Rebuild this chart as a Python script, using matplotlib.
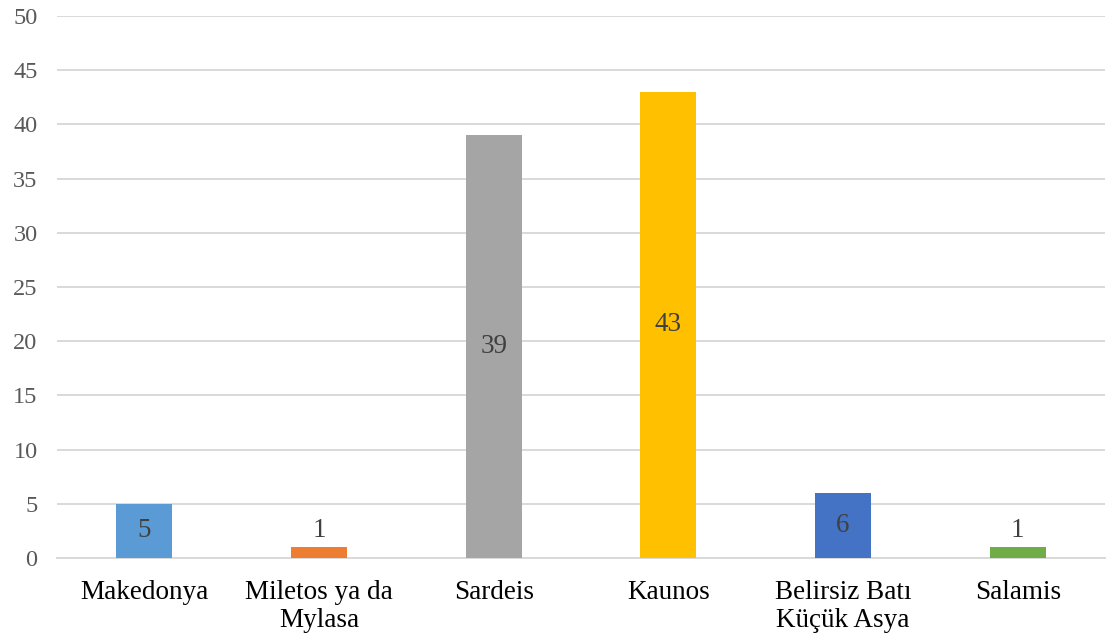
import matplotlib
matplotlib.use("Agg")
import matplotlib.pyplot as plt

categories = ["Makedonya", "Miletos ya da\nMylasa", "Sardeis", "Kaunos",
              "Belirsiz Batı\nKüçük Asya", "Salamis"]
counts = [5, 1, 39, 43, 6, 1]
bar_colors = ["#5B9BD5", "#ED7D31", "#A5A5A5", "#FFC000", "#4472C4", "#70AD47"]
y_ticks = list(range(0, 51, 5))

plt.rcParams["font.family"] = ["Liberation Serif", "DejaVu Serif"]

fig = plt.figure(figsize=(11.14, 6.39), dpi=100)
ax = fig.add_axes([0.0512, 0.1268, 0.9408, 0.8482])

x = list(range(len(categories)))
ax.bar(x, counts, width=0.32, color=bar_colors, zorder=3)

# value labels centred in the bar, lifted for very short bars
for xi, v in zip(x, counts):
    ax.text(xi, max(v / 2, 2.5), str(v), ha="center", va="center",
            fontsize=19.5, color="#404040", zorder=4)

ax.set_xlim(-0.5, len(categories) - 0.5)
ax.set_ylim(0, 50)
ax.set_yticks(y_ticks)
ax.set_yticklabels([str(t) for t in y_ticks], fontsize=17.5, color="#595959")
ax.set_xticks(x)
ax.set_xticklabels(categories, fontsize=19.5, color="#000000", linespacing=1.15)
ax.tick_params(axis="both", length=0)
ax.tick_params(axis="x", pad=16)
ax.tick_params(axis="y", pad=14)

ax.grid(axis="y", color="#D9D9D9", linewidth=1.4, zorder=0)
for side in ["top", "right", "left"]:
    ax.spines[side].set_visible(False)
ax.spines["bottom"].set_color("#D9D9D9")
ax.spines["bottom"].set_linewidth(1.4)

fig.savefig("out.png", dpi=100, facecolor="white")
